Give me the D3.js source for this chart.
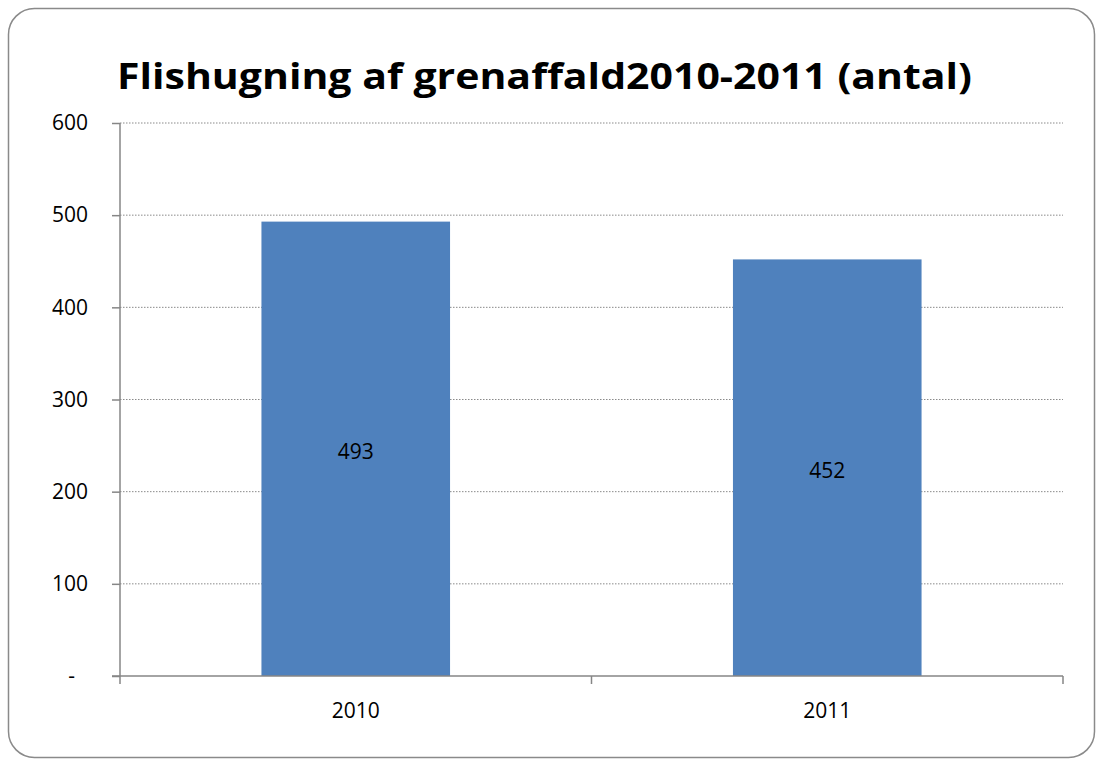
<!DOCTYPE html>
<html><head><meta charset="utf-8">
<script src="https://cdn.jsdelivr.net/npm/d3@7"></script>
<style>body{margin:0;background:#fff}svg{display:block}</style>
</head><body>
<svg id="c" width="1097" height="760"></svg>
<script>
const categories = ["2010", "2011"];
const values = [493, 452];
const yTicks = [0, 100, 200, 300, 400, 500, 600];
const titleText = "Flishugning af grenaffald2010-2011 (antal)";

const svg = d3.select("#c");
const font = "'Open Sans', 'Noto Sans', sans-serif";
svg.append("rect").attr("x", 8.5).attr("y", 8.5).attr("width", 1086).attr("height", 749)
  .attr("rx", 26).attr("ry", 26).attr("fill", "#fff").attr("stroke", "#8a8a8a").attr("stroke-width", 1.5);

const L = 120, R = 1063, T = 123, B = 676;
const x = d3.scaleBand().domain(categories).range([L, R]).paddingInner(0.6).paddingOuter(0.3);
const y = d3.scaleLinear().domain([0, 600]).range([B, T]);

svg.append("text").attr("x", 117).attr("y", 89).attr("font-family", font).attr("font-weight", "bold")
  .attr("font-size", 36).attr("textLength", 855).attr("lengthAdjust", "spacingAndGlyphs")
  .attr("fill", "#000").text(titleText);

// gridlines
svg.append("g").selectAll("line").data(yTicks.filter(d => d > 0)).join("line")
  .attr("x1", L).attr("x2", R).attr("y1", d => y(d)).attr("y2", d => y(d))
  .attr("stroke", "#8a8a8a").attr("stroke-width", 1).attr("stroke-dasharray", "1.5,1.5");

// bars
svg.append("g").selectAll("rect").data(values).join("rect")
  .attr("x", (d, i) => x(categories[i])).attr("width", x.bandwidth())
  .attr("y", d => y(d)).attr("height", d => B - y(d)).attr("fill", "#4F81BD");

// value labels
svg.append("g").selectAll("text").data(values).join("text")
  .attr("x", (d, i) => x(categories[i]) + x.bandwidth() / 2)
  .attr("y", d => (y(d) + B) / 2 + 10).attr("text-anchor", "middle")
  .attr("font-family", font).attr("font-size", 21).attr("fill", "#000").text(d => d);

// y axis
const yAxis = d3.axisLeft(y).tickValues(yTicks).tickSize(8).tickPadding(24)
  .tickFormat(d => d === 0 ? "-" : d);
const gy = svg.append("g").attr("transform", `translate(${L},0)`).call(yAxis);
gy.select(".domain").attr("stroke", "#868686").attr("stroke-width", 1.5).attr("d", `M0,${T}V${B}`);
gy.selectAll(".tick line").attr("stroke", "#868686").attr("stroke-width", 1.5);
gy.selectAll(".tick text").attr("font-family", font).attr("font-size", 21).attr("fill", "#000")
  .attr("dx", d => d === 0 ? -13 : 0);

// x axis
const gx = svg.append("g").attr("transform", `translate(0,${B})`);
gx.append("line").attr("x1", L - 8).attr("x2", R).attr("y1", 0).attr("y2", 0)
  .attr("stroke", "#868686").attr("stroke-width", 1.5);
const bounds = [L, (L + R) / 2, R];
gx.selectAll("line.t").data(bounds).join("line").attr("class", "t")
  .attr("x1", d => d).attr("x2", d => d).attr("y1", 0).attr("y2", 8)
  .attr("stroke", "#868686").attr("stroke-width", 1.5);
gx.selectAll("text").data(categories).join("text")
  .attr("x", d => x(d) + x.bandwidth() / 2).attr("y", 42).attr("text-anchor", "middle")
  .attr("font-family", font).attr("font-size", 21).attr("fill", "#000").text(d => d);
</script>
</body></html>
